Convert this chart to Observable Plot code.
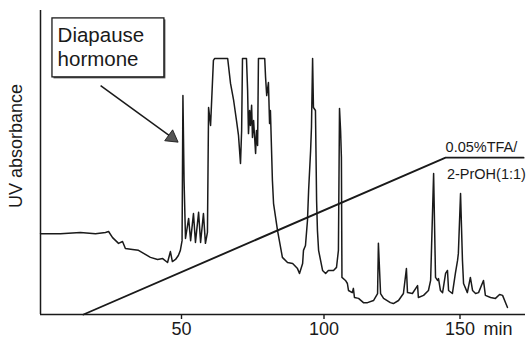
<!DOCTYPE html>
<html>
<head>
<meta charset="utf-8">
<script src="https://cdn.jsdelivr.net/npm/d3@7"></script>
<script src="https://cdn.jsdelivr.net/npm/@observablehq/plot@0.6"></script>
<style>
  html, body { margin: 0; padding: 0; background: #fff; }
  #chart svg { display: block; }
</style>
</head>
<body>
<div id="chart"></div>
<script>
// Retention time (min) and UV absorbance (arbitrary units, 0–100 = axis height)
const traceMin = [0.5, 7.5, 14.5, 19.8, 23.3, 24.4, 25.8, 27.9, 29.3, 30.3, 32.8, 34.9, 36.7, 39.1, 41.6, 43.4, 45.1, 46.1, 46.8, 47.9, 48.9, 49.6, 50.2, 50.5, 50.9, 51.4, 52.5, 53.2, 54.2, 54.9, 56.0, 56.7, 57.7, 58.4, 59.1, 59.5, 60.2, 61.2, 61.6, 66.2, 67.2, 68.3, 69.3, 70.0, 70.7, 71.1, 71.4, 72.8, 73.2, 73.5, 73.9, 74.2, 74.6, 74.9, 75.3, 76.0, 76.3, 76.7, 77.0, 79.2, 79.5, 79.9, 80.5, 80.9, 81.2, 81.9, 82.3, 83.7, 85.4, 87.2, 89.0, 90.7, 91.4, 92.5, 92.8, 93.5, 94.2, 94.6, 95.3, 95.6, 96.0, 96.3, 97.0, 97.4, 97.7, 98.1, 99.5, 100.6, 101.6, 103.5, 104.6, 105.3, 105.5, 105.7, 106.1, 106.4, 106.6, 107.9, 108.6, 109.0, 110.4, 110.8, 111.2, 112.7, 114.5, 116.0, 118.2, 119.7, 120.0, 120.8, 121.9, 124.4, 125.5, 127.4, 129.2, 130.3, 130.7, 132.5, 134.4, 134.7, 136.6, 138.4, 139.2, 140.3, 141.0, 141.8, 142.1, 142.8, 143.6, 144.7, 145.4, 145.8, 147.2, 148.3, 149.1, 149.4, 150.2, 150.9, 151.3, 152.7, 153.8, 154.6, 155.7, 156.8, 158.6, 159.3, 161.2, 163.0, 164.5, 165.6, 167.4];
const traceUV = [26.6, 26.6, 27.0, 26.6, 27.0, 27.3, 25.3, 23.4, 24.0, 21.7, 21.4, 21.1, 20.1, 18.8, 18.1, 18.4, 17.1, 20.7, 17.4, 18.1, 19.4, 21.1, 24.3, 72.0, 44.1, 25.0, 31.6, 24.3, 33.2, 23.7, 33.6, 23.7, 33.2, 23.4, 27.0, 68.1, 62.2, 83.6, 84.2, 84.2, 76.0, 70.4, 63.8, 58.9, 49.7, 60.5, 84.2, 84.2, 73.7, 59.5, 67.1, 62.2, 68.8, 58.2, 63.8, 53.0, 60.5, 55.6, 84.2, 84.2, 78.0, 72.0, 76.3, 62.8, 67.1, 44.1, 36.5, 27.6, 18.8, 17.1, 16.8, 15.1, 13.5, 16.8, 21.1, 22.7, 30.9, 40.8, 53.9, 61.5, 84.2, 68.1, 67.1, 37.5, 27.6, 21.1, 14.5, 13.5, 14.5, 14.5, 15.5, 21.1, 44.1, 67.8, 60.5, 51.6, 12.2, 11.2, 10.2, 7.9, 7.2, 8.6, 5.6, 5.3, 3.9, 3.9, 4.6, 6.9, 23.4, 6.9, 5.3, 3.9, 3.6, 4.6, 6.9, 15.1, 7.2, 6.9, 9.5, 5.6, 6.3, 7.9, 11.2, 46.4, 12.2, 11.2, 11.8, 7.9, 7.2, 13.5, 14.5, 7.9, 6.9, 13.5, 17.8, 20.1, 39.8, 17.8, 10.2, 7.2, 12.2, 7.9, 6.9, 7.2, 11.2, 6.3, 5.6, 5.3, 6.6, 6.3, 2.3];

// Solvent gradient (drawn on the same axes)
const gradMin = [15.6, 144.7, 173.3];
const gradLevel = [0, 51.6, 51.6];

// Tick labels and texts
const xTicks = [50, 100, 150];
const xUnit = "min";
const yLabel = "UV absorbance";
const gradLabels = ["0.05%TFA/", "2-PrOH(1:1)"];
const peakLabel = "Diapause\nhormone";

const trace = traceMin.map((t, i) => ({t, v: traceUV[i]}));
const grad = gradMin.map((t, i) => ({t, v: gradLevel[i]}));

const font = "'Liberation Sans', Arial, sans-serif";
const ink = "#1a1a1a";

const chart = Plot.plot({
  width: 529,
  height: 341,
  marginTop: 10,
  marginBottom: 27,
  marginLeft: 40,
  marginRight: 4,
  style: {fontFamily: font, background: "#fff", color: ink},
  x: {type: "linear", domain: [0.5, 50, 100, 150, 174], range: [40, 181, 323.5, 459.5, 525]},
  y: {domain: [0, 100], axis: null},
  marks: [
    // axes lines
    Plot.ruleX([0.5], {y1: 0, y2: 100, stroke: ink, strokeWidth: 1.5}),
    Plot.ruleY([0], {x1: 0.5, x2: 174, stroke: ink, strokeWidth: 1.5}),
    Plot.axisX(xTicks, {tickSize: 5, tickPadding: 3, fontSize: 18, strokeWidth: 1.4, label: null, tickFormat: d => String(d), fill: ink, stroke: ink}),
    Plot.text([xUnit], {x: 163.9, frameAnchor: "bottom", dy: 8, lineAnchor: "top", fontSize: 18, fill: ink}),
    Plot.text([yLabel], {x: 0.5, y: 55.4, dx: -24, rotate: -90, textAnchor: "middle", lineAnchor: "middle", fontSize: 18, fill: ink}),
    // gradient
    Plot.line(grad, {x: "t", y: "v", stroke: ink, strokeWidth: 1.9}),
    Plot.text([gradLabels[0]], {x: 144.7, y: 53.3, textAnchor: "start", lineAnchor: "bottom", fontSize: 14.5, fill: ink}),
    Plot.text([gradLabels[1]], {x: 145.2, y: 44.7, textAnchor: "start", lineAnchor: "bottom", fontSize: 14.5, fill: ink}),
    // chromatogram
    Plot.line(trace, {x: "t", y: "v", stroke: ink, strokeWidth: 1.5, strokeLinejoin: "round"}),
    // annotation box
    Plot.rect([0], {x1: 4.7, x2: 44.0, y1: 78.0, y2: 97.4, fill: "#555", dx: 1.5, dy: 1.5}),
    Plot.rect([0], {x1: 4.7, x2: 44.0, y1: 78.0, y2: 97.4, fill: "#fff", stroke: ink, strokeWidth: 1.3}),
    Plot.text([peakLabel], {x: 6.5, y: 81.9, textAnchor: "start", lineAnchor: "bottom", lineHeight: 1.13, fontSize: 20.5, fill: ink}),
    // arrow
    Plot.link([0], {x1: 21.6, y1: 75.3, x2: 46.6, y2: 58.3, stroke: ink, strokeWidth: 1.5}),
    Plot.dot([0], {x: 46.6, y: 58.2, symbol: "triangle", r: 5, rotate: 126, fill: "#555", stroke: ink, strokeWidth: 0.8})
  ]
});

document.getElementById("chart").appendChild(chart);
</script>
</body>
</html>
